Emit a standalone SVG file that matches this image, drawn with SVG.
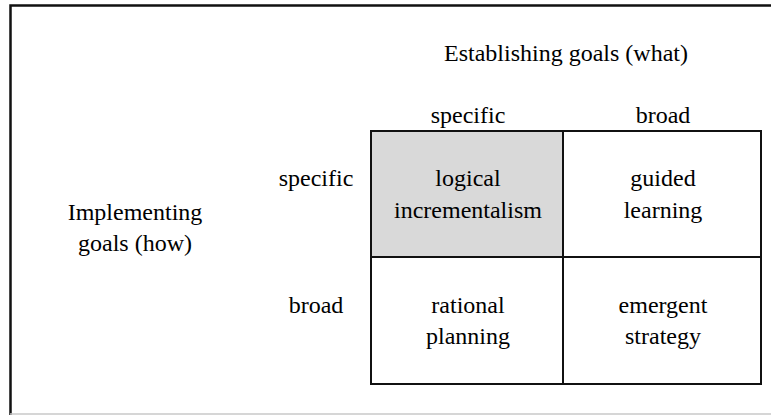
<svg xmlns="http://www.w3.org/2000/svg" width="771" height="415" viewBox="0 0 771 415">
<rect width="771" height="415" fill="#fff"/>
<g id="frame">
<path d="M10.5,415 V5.5 H771" stroke="#111" stroke-width="2.5" fill="none"/>
<line x1="10" y1="414" x2="771" y2="414" stroke="#c8c8c8" stroke-width="1.5"/>
</g>
<g id="title"><text x="566" y="61" font-family="Liberation Serif" font-size="24" text-anchor="middle">Establishing goals (what)</text></g>
<g id="col-specific"><text x="468" y="123" font-family="Liberation Serif" font-size="24" text-anchor="middle">specific</text></g>
<g id="col-broad"><text x="663" y="123" font-family="Liberation Serif" font-size="24" text-anchor="middle">broad</text></g>
<g id="row-specific"><text x="316" y="186" font-family="Liberation Serif" font-size="24" text-anchor="middle">specific</text></g>
<g id="row-broad"><text x="316" y="313" font-family="Liberation Serif" font-size="24" text-anchor="middle">broad</text></g>
<g id="row-title"><text x="135" y="220" font-family="Liberation Serif" font-size="24" text-anchor="middle">Implementing</text><text x="135" y="251" font-family="Liberation Serif" font-size="24" text-anchor="middle">goals (how)</text></g>
<g id="cell-logical">
<rect x="371" y="131" width="192" height="126" fill="#d9d9d9"/>
<text x="468" y="186" font-family="Liberation Serif" font-size="24" text-anchor="middle">logical</text><text x="468" y="218" font-family="Liberation Serif" font-size="24" text-anchor="middle">incrementalism</text>
</g>
<g id="cell-guided"><text x="663" y="186" font-family="Liberation Serif" font-size="24" text-anchor="middle">guided</text><text x="663" y="218" font-family="Liberation Serif" font-size="24" text-anchor="middle">learning</text></g>
<g id="cell-rational"><text x="468" y="313" font-family="Liberation Serif" font-size="24" text-anchor="middle">rational</text><text x="468" y="344" font-family="Liberation Serif" font-size="24" text-anchor="middle">planning</text></g>
<g id="cell-emergent"><text x="663" y="313" font-family="Liberation Serif" font-size="24" text-anchor="middle">emergent</text><text x="663" y="344" font-family="Liberation Serif" font-size="24" text-anchor="middle">strategy</text></g>
<g id="connectors" stroke="#111" stroke-width="2" fill="none">
<rect x="371" y="131" width="390" height="253"/>
<line x1="563" y1="131" x2="563" y2="384"/>
<line x1="371" y1="257" x2="761" y2="257"/>
</g>
</svg>
